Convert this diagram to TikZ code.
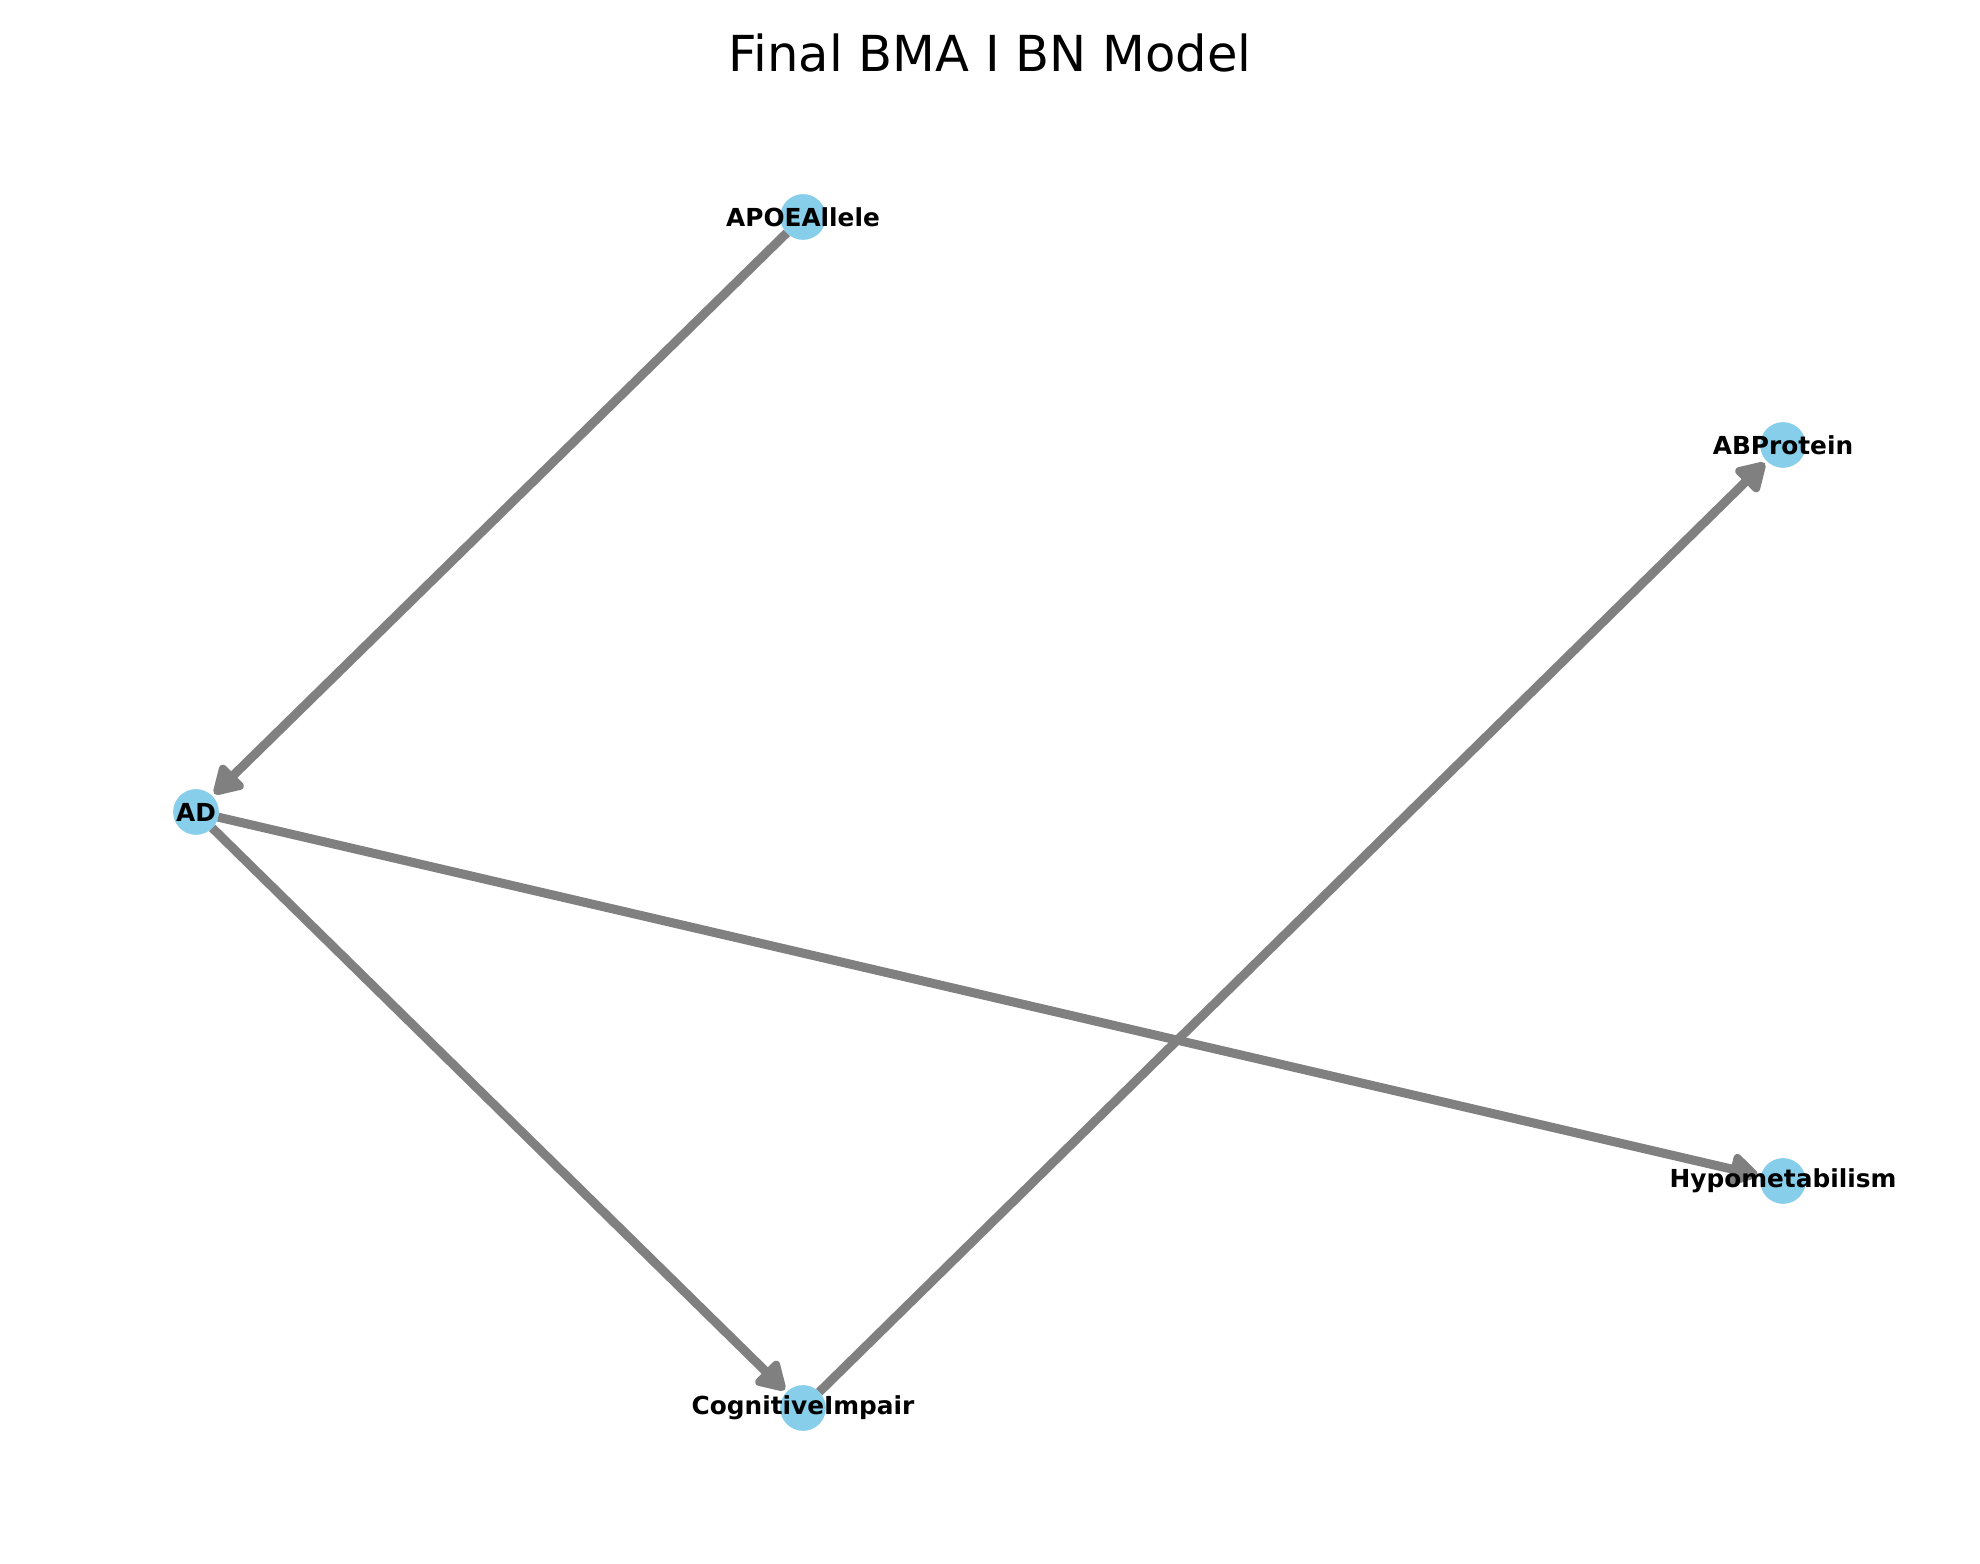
\documentclass[tikz,border=0pt]{standalone}
\usepackage{fontspec}
\setmainfont{DejaVu Sans}
\usetikzlibrary{arrows.meta}
\definecolor{nodeblue}{HTML}{87CEEB}
\definecolor{edgegray}{HTML}{808080}
\tikzset{
  bnnode/.style={circle, fill=nodeblue, draw=none, minimum size=22.7pt, inner sep=0pt, outer sep=0pt},
  bnlabel/.style={font=\fontsize{12.4pt}{14pt}\selectfont\bfseries, text=black, inner sep=0pt, anchor=center},
  bnedge/.style={draw=edgegray, line width=4.5pt, shorten >=1.5pt, shorten <=0pt,
    -{Triangle[length=16pt, width=18pt, round]}}
}
\begin{document}
\begin{tikzpicture}[x=1pt,y=1pt]
\useasboundingbox (0,0) rectangle (990,781.5);
\node[anchor=base, font=\fontsize{24.8pt}{29pt}\selectfont] (title) at (495,745.5) {Final BMA I BN Model};
% circles
\node[bnnode] (apoe) at (401.5,673) {};
\node[bnnode] (ad) at (98,375.5) {};
\node[bnnode] (abp) at (891.5,559) {};
\node[bnnode] (hypo) at (891.5,191) {};
\node[bnnode] (cog) at (401.5,77.5) {};
% edges
\draw[bnedge] (apoe) -- (ad);
\draw[bnedge] (ad) -- (cog);
\draw[bnedge] (ad) -- (hypo);
\draw[bnedge] (cog) -- (abp);
% circles again on top of the edges
\node[bnnode] (apoeT) at (apoe) {};
\node[bnnode] (adT) at (ad) {};
\node[bnnode] (abpT) at (abp) {};
\node[bnnode] (hypoT) at (hypo) {};
\node[bnnode] (cogT) at (cog) {};
% labels
\node[bnlabel] (apoeL) at (apoe) {APOEAllele};
\node[bnlabel] (adL) at (ad) {AD};
\node[bnlabel] (abpL) at (abp) {ABProtein};
\node[bnlabel] (hypoL) at (hypo) {Hypometabilism};
\node[bnlabel] (cogL) at (cog) {CognitiveImpair};
\end{tikzpicture}
\end{document}
